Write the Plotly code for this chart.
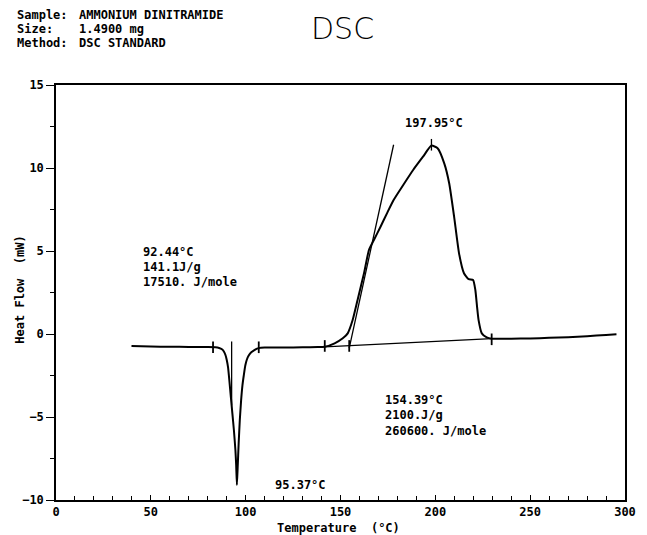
import plotly.graph_objects as go

# ---- main DSC curve ----
temperature = [39.8, 50, 60, 70, 80, 84, 86, 87.5, 88.5, 89.3, 90.0, 90.7, 91.4, 92.2, 93.0, 93.8,
               94.6, 95.0, 95.37, 95.8, 96.3, 96.9, 97.6, 98.3, 99.0, 99.8, 100.6, 101.6, 102.8,
               104.2, 106.0, 108.0, 110, 120, 130, 138, 141.7, 146.9, 151.2, 153.8, 156.4, 159.0,
               162.4, 165.0, 167.6, 171.1, 174.5, 178.0, 183.1, 188.3, 193.5, 197.95, 201.2,
               204.7, 207.3, 209.9, 212.5, 215.1, 217.6, 219.9, 221.1, 222.0, 222.8, 224.5,
               227.1, 229.7, 240, 250, 260, 270, 280, 290, 295.5]
heat_flow = [-0.72, -0.75, -0.77, -0.78, -0.79, -0.80, -0.84, -0.92, -1.05, -1.25, -1.55, -2.0,
             -2.8, -3.8, -4.8, -5.8, -7.0, -7.9, -9.1, -8.0, -6.6, -5.2, -4.0, -3.1, -2.5, -1.9,
             -1.55, -1.3, -1.12, -1.0, -0.88, -0.83, -0.82, -0.82, -0.80, -0.79, -0.77, -0.56,
             -0.26, 0.04, 0.84, 2.05, 3.66, 5.06, 5.66, 6.46, 7.27, 8.07, 8.98, 9.88, 10.68,
             11.35, 11.19, 10.28, 9.08, 7.07, 4.86, 3.66, 3.3, 3.25, 2.65, 1.64, 0.84, 0.04,
             -0.2, -0.28, -0.28, -0.27, -0.23, -0.19, -0.13, -0.06, -0.02]

# ---- analysis constructions ----
exo_baseline_T = [141.7, 229.7]
exo_baseline_HF = [-0.77, -0.28]
tangent_T = [154.6, 178.0]
tangent_HF = [-0.85, 11.4]
endo_onset_T = [92.6, 92.6]
endo_onset_HF = [-0.45, -4.3]
limit_marks_T = [82.8, 106.9, 141.7, 154.6, 229.7]
limit_marks_center = [-0.8, -0.8, -0.72, -0.72, -0.32]
peak_mark_T = [197.95, 197.95]
peak_mark_HF = [11.75, 11.05]
mark_half = 0.35

# ---- labels ----
endo_text = ["92.44°C", "141.1J/g", "17510. J/mole"]
endo_text_x = 45.0
endo_text_y = [4.96, 4.05, 3.15]
exo_text = ["154.39°C", "2100.J/g", "260600. J/mole"]
exo_text_x = 172.3
exo_text_y = [-3.98, -4.88, -5.84]
peak_labels = ["197.95°C", "95.37°C"]
peak_label_x = [183.1, 114.2]
peak_label_y = [12.73, -9.1]
header_keys = ["Sample:", "Size:", "Method:"]
header_vals = ["AMMONIUM DINITRAMIDE", "1.4900 mg", "DSC STANDARD"]

FONT = "DejaVu Sans Mono"

fig = go.Figure()
line_style = dict(color="black", width=1.3)

fig.add_trace(go.Scatter(x=temperature, y=heat_flow, mode="lines",
                         line=dict(color="black", width=2, shape="spline", smoothing=0.5),
                         hoverinfo="skip"))
fig.add_trace(go.Scatter(x=exo_baseline_T, y=exo_baseline_HF, mode="lines", line=line_style))
fig.add_trace(go.Scatter(x=tangent_T, y=tangent_HF, mode="lines", line=line_style))
fig.add_trace(go.Scatter(x=endo_onset_T, y=endo_onset_HF, mode="lines", line=line_style))
fig.add_trace(go.Scatter(x=peak_mark_T, y=peak_mark_HF, mode="lines", line=line_style))
mx, my = [], []
for t, c in zip(limit_marks_T, limit_marks_center):
    mx += [t, t, None]
    my += [c + mark_half, c - mark_half, None]
fig.add_trace(go.Scatter(x=mx, y=my, mode="lines", line=dict(color="black", width=1.8)))

ann_font = dict(family=FONT, size=12, color="black")
for txt, yy in zip(endo_text, endo_text_y):
    fig.add_annotation(x=endo_text_x, y=yy, text="<b>%s</b>" % txt, showarrow=False,
                       xanchor="left", yanchor="middle", font=ann_font)
for txt, yy in zip(exo_text, exo_text_y):
    fig.add_annotation(x=exo_text_x, y=yy, text="<b>%s</b>" % txt, showarrow=False,
                       xanchor="left", yanchor="middle", font=ann_font)
for txt, xx, yy in zip(peak_labels, peak_label_x, peak_label_y):
    fig.add_annotation(x=xx, y=yy, text="<b>%s</b>" % txt, showarrow=False,
                       xanchor="left", yanchor="middle", font=ann_font)

header_y = [1.1687, 1.1349, 1.1012]
for k, v, yy in zip(header_keys, header_vals, header_y):
    fig.add_annotation(xref="paper", yref="paper", x=-0.0724, y=yy, text="<b>%s</b>" % k,
                       showarrow=False, xanchor="left", yanchor="middle", font=ann_font)
    fig.add_annotation(xref="paper", yref="paper", x=0.0362, y=yy, text="<b>%s</b>" % v,
                       showarrow=False, xanchor="left", yanchor="middle", font=ann_font)
fig.add_annotation(xref="paper", yref="paper", x=0.5034, y=1.135, text="DSC", showarrow=False,
                   xanchor="center", yanchor="middle",
                   font=dict(family="DejaVu Sans", size=30, color="black", weight=200))
fig.add_annotation(xref="paper", yref="paper", x=0.4966, y=-0.0675, text="<b>Temperature  (°C)</b>",
                   showarrow=False, xanchor="center", yanchor="middle", font=ann_font)
fig.add_annotation(xref="paper", yref="paper", x=-0.0638, y=0.506, text="<b>Heat Flow  (mW)</b>",
                   showarrow=False, textangle=-90, xanchor="center", yanchor="middle", font=ann_font)

# page body has an 8px default margin, so the figure is sized to compensate
fig.update_layout(
    width=639, height=527,
    margin=dict(l=48, r=11, t=77, b=35),
    paper_bgcolor="white", plot_bgcolor="white",
    showlegend=False,
    xaxis=dict(range=[0, 300], tick0=0, dtick=50, ticks="inside", ticklen=5, tickwidth=1.3,
               tickcolor="black", showgrid=False, zeroline=False, showline=True, mirror=True,
               linecolor="black", linewidth=1.5,
               tickfont=dict(family=FONT, size=12, color="black", weight="bold"),
               minor=dict(dtick=10, ticks="inside", ticklen=4, tickcolor="black", tickwidth=1.2)),
    yaxis=dict(range=[-10, 15], tick0=0, dtick=5, ticks="outside", ticklen=8, tickwidth=1.3,
               tickcolor="black", showgrid=False, zeroline=False, showline=True, mirror=True,
               linecolor="black", linewidth=1.5,
               tickfont=dict(family=FONT, size=12, color="black", weight="bold"),
               minor=dict(dtick=2.5, ticks="outside", ticklen=4, tickcolor="black", tickwidth=1.2)),
)

fig.write_html("out.html")
